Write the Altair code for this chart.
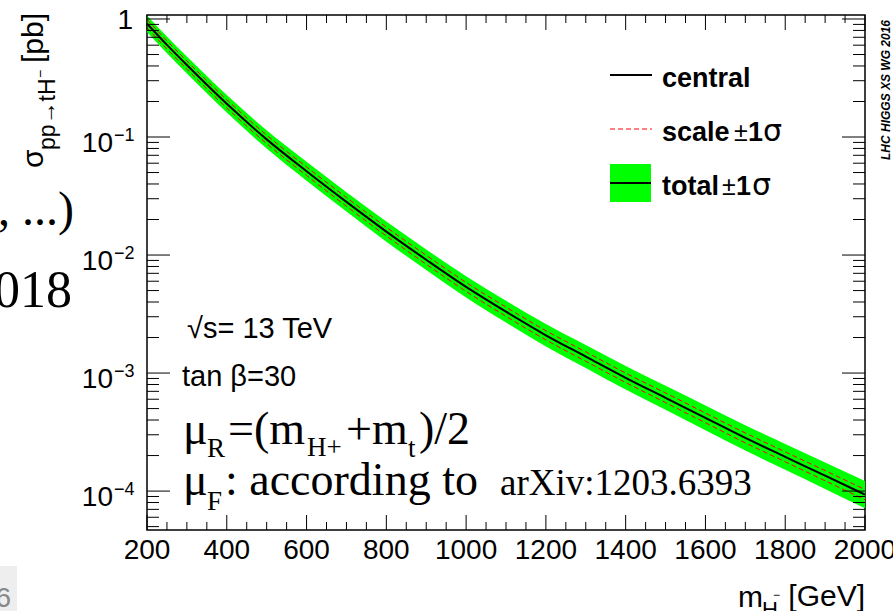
import altair as alt
import pandas as pd

# ---------------- data ----------------
mass = [200, 250, 300, 400, 500, 600, 700, 800, 900, 1000, 1100, 1200,
        1300, 1400, 1500, 1600, 1700, 1800, 1900, 2000]
central = [0.912, 0.603, 0.407, 0.191, 0.0955, 0.0513, 0.0282, 0.0158,
           0.00912, 0.00537, 0.00331, 0.00209, 0.00138, 0.000912, 0.000617,
           0.000417, 0.000282, 0.000195, 0.000135, 0.0000933]
# relative uncertainties in percent
scale_up = [8.4, 8.4, 8.4, 8.4, 8.6, 8.6, 8.9, 8.9, 9.1, 9.1, 9.4, 9.4,
            9.6, 9.6, 9.9, 9.9, 10.2, 10.2, 10.4, 10.4]
scale_dn = [7.7, 7.7, 7.7, 7.7, 7.9, 7.9, 8.2, 8.2, 8.4, 8.4, 8.6, 8.6,
            8.8, 8.8, 9.0, 9.0, 9.2, 9.2, 9.4, 9.4]
total_up = [17.5, 17.8, 18.0, 18.6, 19.4, 20.2, 20.8, 21.6, 22.2, 23.0,
            23.6, 24.5, 25.0, 25.9, 26.5, 27.4, 27.9, 28.8, 29.4, 30.3]
total_dn = [14.9, 15.1, 15.3, 15.7, 16.3, 16.8, 17.2, 17.8, 18.1, 18.7,
            19.1, 19.7, 20.0, 20.6, 20.9, 21.5, 21.8, 22.4, 22.7, 23.3]

x_major = [200, 400, 600, 800, 1000, 1200, 1400, 1600, 1800, 2000]
x_labels = ["200", "400", "600", "800", "1000", "1200", "1400", "1600", "1800", "2000"]
x_minor = [250, 300, 350, 450, 500, 550, 650, 700, 750, 850, 900, 950,
           1050, 1100, 1150, 1250, 1300, 1350, 1450, 1500, 1550, 1650,
           1700, 1750, 1850, 1900, 1950]
y_major = [1, 0.1, 0.01, 0.001, 0.0001]
y_exp_vals = [0.1, 0.01, 0.001, 0.0001]
y_exp_labels = ["\u22121", "\u22122", "\u22123", "\u22124"]
y_minor = [5e-5, 6e-5, 7e-5, 8e-5, 9e-5,
           2e-4, 3e-4, 4e-4, 5e-4, 6e-4, 7e-4, 8e-4, 9e-4,
           2e-3, 3e-3, 4e-3, 5e-3, 6e-3, 7e-3, 8e-3, 9e-3,
           2e-2, 3e-2, 4e-2, 5e-2, 6e-2, 7e-2, 8e-2, 9e-2,
           0.2, 0.3, 0.4, 0.5, 0.6, 0.7, 0.8, 0.9]

# ---------------- layout ----------------
X0, Y0 = 147, 15          # page position of plot origin
W, H = 718, 515
SANS = "Liberation Sans, Arial, Helvetica, sans-serif"
SERIF = "Liberation Serif, Times New Roman, serif"
SYM = "DejaVu Sans, sans-serif"

df = pd.DataFrame({"m": mass, "c": central})
df["s_up"] = df["c"] * (1 + pd.Series(scale_up) / 100)
df["s_dn"] = df["c"] * (1 - pd.Series(scale_dn) / 100)
df["t_up"] = df["c"] * (1 + pd.Series(total_up) / 100)
df["t_dn"] = df["c"] * (1 - pd.Series(total_dn) / 100)

xs = alt.Scale(domain=[200, 2000], nice=False, zero=False)
ys = alt.Scale(type="log", domain=[4.68e-5, 1.081], nice=False)
X = lambda f: alt.X(f, type="quantitative", scale=xs, axis=None)
Y = lambda f: alt.Y(f, type="quantitative", scale=ys, axis=None)

base = alt.Chart(df)
band = base.mark_area(color="#00ff00", opacity=1, interpolate="monotone").encode(
    x=X("m"), y=Y("t_up"), y2="t_dn")
sc_up = base.mark_line(color="#ff0000", strokeWidth=1, strokeDash=[5, 3],
                       interpolate="monotone").encode(x=X("m"), y=Y("s_up"))
sc_dn = base.mark_line(color="#ff0000", strokeWidth=1, strokeDash=[5, 3],
                       interpolate="monotone").encode(x=X("m"), y=Y("s_dn"))
cen = base.mark_line(color="black", strokeWidth=2, interpolate="monotone").encode(
    x=X("m"), y=Y("c"))

layers = [band, sc_up, sc_dn, cen]

# ticks
def yticks(vals, length):
    d = pd.DataFrame({"v": vals})
    l = alt.Chart(d).mark_rule(color="black", strokeWidth=1).encode(
        y=Y("v"), x=alt.value(0), x2=alt.value(length))
    r = alt.Chart(d).mark_rule(color="black", strokeWidth=1).encode(
        y=Y("v"), x=alt.value(W - length), x2=alt.value(W))
    return [l, r]

def xticks(vals, length):
    d = pd.DataFrame({"v": vals})
    b = alt.Chart(d).mark_rule(color="black", strokeWidth=1).encode(
        x=X("v"), y=alt.value(H - length), y2=alt.value(H))
    t = alt.Chart(d).mark_rule(color="black", strokeWidth=1).encode(
        x=X("v"), y=alt.value(0), y2=alt.value(length))
    return [b, t]

layers += yticks(y_major, 23) + yticks(y_minor, 12)
layers += xticks(x_major, 15) + xticks(x_minor, 8)

# tick labels
layers.append(alt.Chart(pd.DataFrame({"v": x_major, "t": x_labels})).mark_text(
    font=SANS, fontSize=28, align="center", baseline="alphabetic", color="black").encode(
    x=X("v"), y=alt.value(559 - Y0), text="t:N"))
layers.append(alt.Chart(pd.DataFrame({"v": y_exp_vals, "t": ["10"] * 4})).mark_text(
    font=SANS, fontSize=28, align="right", baseline="alphabetic", dy=15, color="black").encode(
    y=Y("v"), x=alt.value(113 - X0), text="t:N"))
layers.append(alt.Chart(pd.DataFrame({"v": y_exp_vals, "t": y_exp_labels})).mark_text(
    font=SANS, fontSize=18, align="left", baseline="alphabetic", dy=4, color="black").encode(
    y=Y("v"), x=alt.value(114 - X0), text="t:N"))
layers.append(alt.Chart(pd.DataFrame({"v": [1], "t": ["1"]})).mark_text(
    font=SANS, fontSize=28, align="right", baseline="alphabetic", dy=10, color="black").encode(
    y=Y("v"), x=alt.value(133 - X0), text="t:N"))


def txt(s, x, y, size, font=SANS, weight="normal", style="normal", align="left",
        angle=0, color="black"):
    return alt.Chart(pd.DataFrame({"t": [s]})).mark_text(
        font=font, fontSize=size, fontWeight=weight, fontStyle=style, align=align,
        baseline="alphabetic", angle=angle, color=color).encode(
        x=alt.value(x - X0), y=alt.value(y - Y0), text="t:N")


def rule(x1, x2, y, color="black", width=2, dash=None):
    kw = dict(color=color, strokeWidth=width)
    if dash:
        kw["strokeDash"] = dash
    return alt.Chart(pd.DataFrame({"a": [0]})).mark_rule(**kw).encode(
        x=alt.value(x1 - X0), x2=alt.value(x2 - X0), y=alt.value(y - Y0))


def rect(x1, x2, y1, y2, color):
    return alt.Chart(pd.DataFrame({"a": [0]})).mark_rect(color=color, opacity=1).encode(
        x=alt.value(x1 - X0), x2=alt.value(x2 - X0),
        y=alt.value(y1 - Y0), y2=alt.value(y2 - Y0))

# legend
layers += [
    rule(610, 652, 75),
    txt("central", 662, 87, 27, weight="bold"),
    rule(610, 652, 129, color="#ff0000", width=1, dash=[5, 3]),
    txt("scale", 662, 141, 27, weight="bold"),
    txt("\u00b1", 734, 141, 25),
    txt("1", 748, 141, 27, weight="bold"),
    txt("\u03c3", 763, 141, 30, font=SYM),
    rect(610, 651, 164, 202, "#00ff00"),
    rule(610, 651, 183),
    txt("total", 662, 195, 27, weight="bold"),
    txt("\u00b1", 722, 195, 25),
    txt("1", 736, 195, 27, weight="bold"),
    txt("\u03c3", 752, 195, 30, font=SYM),
]

# annotations inside the plot
layers += [
    txt("\u221as= 13 TeV", 187, 338, 29),
    txt("tan \u03b2=30", 182, 386, 29),
    txt("\u03bc", 183, 444, 46, font=SERIF),
    txt("R", 207, 457, 27, font=SERIF),
    txt("=(m", 228, 444, 46, font=SERIF),
    txt("H+", 307, 456, 27, font=SERIF),
    txt("+m", 346, 444, 46, font=SERIF),
    txt("t", 408, 457, 27, font=SERIF),
    txt(")/2", 419, 444, 46, font=SERIF),
    txt("\u03bc", 183, 495, 46, font=SERIF),
    txt("F", 207, 510, 27, font=SERIF),
    txt(": according to", 225, 495, 46, font=SERIF),
    txt("arXiv:1203.6393", 500, 495, 37, font=SERIF),
]

# axis titles
layers += [
    txt("\u03c3", 43, 168, 30, angle=270),
    txt("pp\u2192tH", 55, 150, 23, angle=270),
    txt("\u2212", 45, 78, 14, angle=270),
    txt("[pb]", 43, 63, 30, angle=270),
    txt("m", 738, 607, 30),
    txt("H", 762, 617, 22),
    txt("\u2212", 773, 599, 12),
    txt("[GeV]", 865, 606, 30, align="right"),
]

# texts cut by the page edges
layers += [
    txt(", ...)", 74, 225, 48, font=SERIF, align="right"),
    txt("018", 72, 307, 52, font=SERIF, align="right"),
    rect(0, 17, 566, 616, "#eeeeee"),
    txt("6", 11, 607, 28, align="right", color="#888888"),
    txt("LHC HIGGS XS WG 2016", 890, 160, 12, weight="bold", style="italic", angle=270),
]

chart = alt.layer(*layers).properties(
    width=W, height=H,
    autosize=alt.AutoSizeParams(type="none"),
    padding={"left": X0, "top": Y0, "right": 893 - X0 - W, "bottom": 611 - Y0 - H},
    background="white",
).configure_view(stroke="black", strokeWidth=1.5)

chart.save("out.html", embed_options={"renderer": "svg", "actions": False})
